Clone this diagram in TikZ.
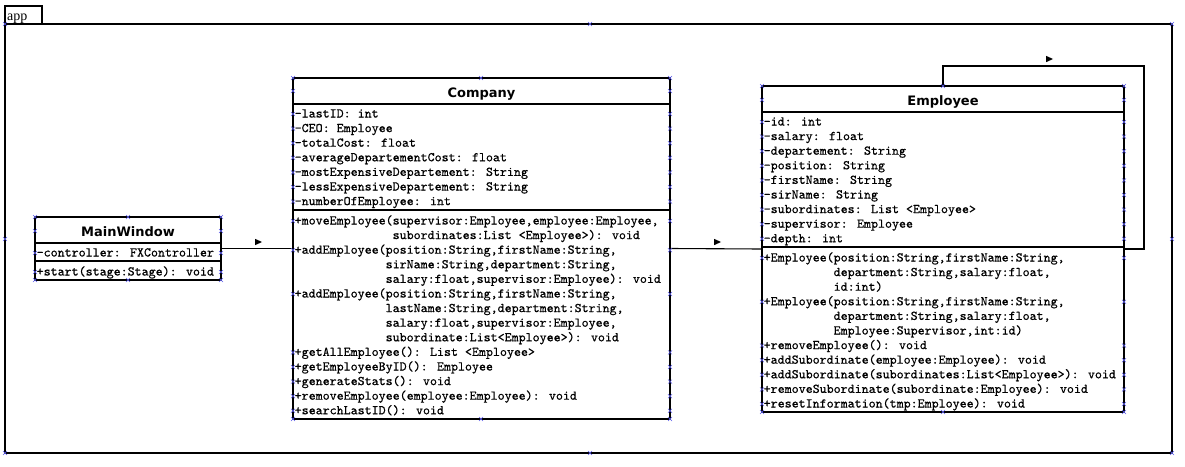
\documentclass[tikz,border=0pt]{standalone}
\usepackage{fontspec}
\newfontfamily\titlefont{DejaVu Sans}
\newfontfamily\lblfont{Liberation Serif}
\newfontfamily\umlmono{lmmono10-regular}[Extension=.otf, FakeBold=0.5]
\definecolor{hblue}{RGB}{90,90,235}
\newcommand\hx[2]{\draw[handle] ({#1-2},{#2-2}) -- ({#1+2},{#2+2}) ({#1-2},{#2+2}) -- ({#1+2},{#2-2});}
\begin{document}
\begin{tikzpicture}[x=1pt,y=-1pt,
  box/.style={draw, line width=1.1pt, inner sep=0pt, outer sep=0pt, anchor=north west},
  mono/.style={font=\umlmono\fontsize{13.33}{14.6}\selectfont, inner sep=0pt, anchor=base west},
  ttl/.style={font=\titlefont\bfseries\fontsize{13}{15}\selectfont, inner sep=0pt, anchor=base},
  sep/.style={line width=1.1pt},
  conn/.style={line width=1.1pt},
  handle/.style={draw=hblue, line width=0.5pt},
  navtri/.style={fill=black},
]
\useasboundingbox (0,0) rectangle (1185,466);
% package frame
\node[box, minimum width=1167pt, minimum height=429pt] (pkg) at (5,24) {};
\node[box, minimum width=37pt, minimum height=18pt] (tab) at (5,6) {};
\node[font=\lblfont\fontsize{14}{16}\selectfont, inner sep=0pt, anchor=base west] (applbl) at (7,20.5) {app};

% MainWindow
\node[box, minimum width=186pt, minimum height=63pt] (mainwindow) at (35,217) {};
\draw[sep] (mainwindow.north west) ++(0,26) -- ++(186,0);
\draw[sep] (mainwindow.north west) ++(0,44) -- ++(186,0);
\node[ttl] (mwtitle) at (128,236) {MainWindow};
\node[mono] (mwa0) at (36.5,256.5) {-controller: FXController};
\node[mono] (mwm0) at (36.5,275.5) {+start(stage:Stage): void};

% Company
\node[box, minimum width=377pt, minimum height=341pt] (company) at (293,78) {};
\draw[sep] (company.north west) ++(0,26) -- ++(377,0);
\draw[sep] (company.north west) ++(0,132) -- ++(377,0);
\node[ttl] (ctitle) at (481.5,97) {Company};
\foreach \t [count=\i from 0] in {{-lastID: int},{-CEO: Employee},{-totalCost: float},{-averageDepartementCost: float},{-mostExpensiveDepartement: String},{-lessExpensiveDepartement: String},{-numberOfEmployee: int}}
  {\node[mono] (ca\i) at (294.5,117.5+14.6*\i) {\t};}
\foreach \t [count=\i from 0] in {
  {+moveEmployee(supervisor:Employee,employee:Employee,},
  {\hphantom{+moveEmployee(}subordinates:List <Employee>): void},
  {+addEmployee(position:String,firstName:String,},
  {\hphantom{+addEmployee(}sirName:String,department:String,},
  {\hphantom{+addEmployee(}salary:float,supervisor:Employee): void},
  {+addEmployee(position:String,firstName:String,},
  {\hphantom{+addEmployee(}lastName:String,department:String,},
  {\hphantom{+addEmployee(}salary:float,supervisor:Employee,},
  {\hphantom{+addEmployee(}subordinate:List<Employee>): void},
  {+getAllEmployee(): List <Employee>},
  {+getEmployeeByID(): Employee},
  {+generateStats(): void},
  {+removeEmployee(employee:Employee): void},
  {+searchLastID(): void}}
  {\node[mono] (cm\i) at (294.5,224.5+14.6*\i) {\t};}

% Employee
\node[box, minimum width=362pt, minimum height=326pt] (employee) at (762,86) {};
\draw[sep] (employee.north west) ++(0,26) -- ++(362,0);
\draw[sep] (employee.north west) ++(0,161) -- ++(362,0);
\node[ttl] (etitle) at (943,105) {Employee};
\foreach \t [count=\i from 0] in {{-id: int},{-salary: float},{-departement: String},{-position: String},{-firstName: String},{-sirName: String},{-subordinates: List <Employee>},{-supervisor: Employee},{-depth: int}}
  {\node[mono] (ea\i) at (763.5,125.5+14.6*\i) {\t};}
\foreach \t [count=\i from 0] in {
  {+Employee(position:String,firstName:String,},
  {\hphantom{+Employee(}department:String,salary:float,},
  {\hphantom{+Employee(}id:int)},
  {+Employee(position:String,firstName:String,},
  {\hphantom{+Employee(}department:String,salary:float,},
  {\hphantom{+Employee(}Employee:Supervisor,int:id)},
  {+removeEmployee(): void},
  {+addSubordinate(employee:Employee): void},
  {+addSubordinate(subordinates:List<Employee>): void},
  {+removeSubordinate(subordinate:Employee): void},
  {+resetInformation(tmp:Employee): void}}
  {\node[mono] (em\i) at (763.5,261.5+14.6*\i) {\t};}

% connectors
\draw[conn] (mainwindow.east) -- (company.west);
\draw[conn] (company.east) -- (employee.west);
\coordinate (loopc) at (1144,66);
\draw[conn] (employee.north) |- (loopc) |- (employee.east);
% navigability triangles
\coordinate (nav1) at (255,242);
\coordinate (nav2) at (714,242);
\coordinate (nav3) at (1046,59);
\foreach \n in {nav1,nav2,nav3}
  {\fill[navtri] (\n) ++(0,-3.2) -- ++(7,3.2) -- ++(-7,3.2) -- cycle;}

% selection handles
\foreach \x/\y in {5/24,590/24,1172/24,1172/239,1172/453,590/453,5/453,5/239}
  {\hx{\x}{\y}}
\foreach \y in {217,231,253,272,280} {\hx{35}{\y} \hx{221}{\y}}
\hx{128}{217} \hx{128}{280}
\foreach \y in {78,91,114,128.6,143.2,157.8,172.4,187,201.6,221,250.2,294,352.4,367,381.6,396.2,410.8,419} {\hx{293}{\y} \hx{670}{\y}}
\hx{481}{78} \hx{481}{419}
\foreach \y in {86,100,122,136.6,151.2,165.8,180.4,195,209.6,224.2,238.8,258,301.8,345.6,360.2,374.8,389.4,404,412} {\hx{762}{\y} \hx{1124}{\y}}
\hx{943}{86} \hx{943}{412}
\end{tikzpicture}
\end{document}
